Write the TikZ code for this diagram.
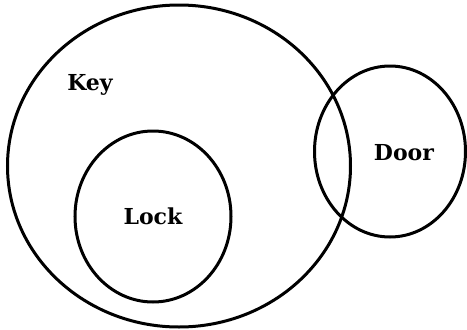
\documentclass[tikz,border=0pt]{standalone}
\usepackage{fontspec}
\setmainfont{DejaVu Serif}
\usetikzlibrary{shapes.geometric}

\begin{document}
\begin{tikzpicture}[
  x=1pt, y=-1pt,
  set/.style={draw, ellipse, line width=3pt, inner sep=0pt},
  setname/.style={font=\bfseries\fontsize{22}{26}\selectfont}
]
\useasboundingbox (0,0) rectangle (467,330);
\node[set, minimum width=343pt, minimum height=322pt] (key) at (179,166) {};
\node[set, minimum width=156pt, minimum height=171pt] (lock) at (153,216.5) {};
\node[set, minimum width=151pt, minimum height=171pt] (door) at (390,151.5) {};

\node[setname] (keylbl) at (90,85) {Key};
\node[setname] (locklbl) at (153,216) {Lock};
\node[setname] (doorlbl) at (404,153) {Door};
\end{tikzpicture}
\end{document}
